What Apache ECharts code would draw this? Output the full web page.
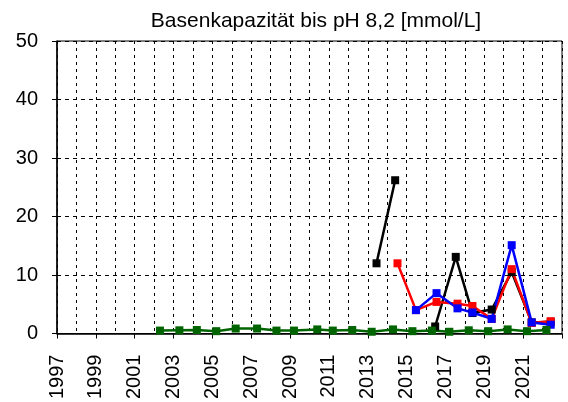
<!DOCTYPE html>
<html><head><meta charset="utf-8">
<script src="https://cdn.jsdelivr.net/npm/echarts@6/dist/echarts.min.js"></script>
<style>html,body{margin:0;padding:0;background:#fff}#c{width:568px;height:402px}</style>
</head><body><div id="c"></div>
<script>
var title = 'Basenkapazität bis pH 8,2 [mmol/L]';
var yTicks = [0, 10, 20, 30, 40, 50];
var greenYears = [2002.3, 2003.3, 2004.2, 2005.2, 2006.2, 2007.3, 2008.3, 2009.2, 2010.4, 2011.2, 2012.2, 2013.2, 2014.3, 2015.3, 2016.3, 2017.2, 2018.2, 2019.2, 2020.2, 2021.2, 2022.2];
var greenVals  = [0.5, 0.55, 0.6, 0.4, 0.85, 0.85, 0.5, 0.5, 0.7, 0.5, 0.6, 0.3, 0.7, 0.4, 0.5, 0.3, 0.55, 0.4, 0.7, 0.4, 0.6];
var blackAYears = [2013.45, 2014.41];
var blackAVals  = [12.0, 26.2];
var blackBYears = [2016.47, 2017.53, 2018.39, 2019.38, 2020.41, 2021.44, 2022.42];
var blackBVals  = [1.2, 13.1, 3.5, 4.1, 10.5, 1.9, 2.0];
var redYears = [2014.53, 2015.48, 2016.54, 2017.62, 2018.39, 2019.38, 2020.41, 2021.44, 2022.42];
var redVals  = [12.0, 4.0, 5.4, 5.1, 4.7, 2.5, 11.0, 1.8, 2.1];
var blueYears = [2015.48, 2016.54, 2017.62, 2018.39, 2019.38, 2020.41, 2021.44, 2022.42];
var blueVals  = [4.0, 6.9, 4.3, 3.6, 2.5, 15.1, 1.9, 1.5];

function pairs(xs, ys){ return xs.map(function(x,i){ return [x, ys[i]]; }); }
function ser(name, xs, ys, color){
  return {name:name, type:'line', data:pairs(xs,ys), symbol:'rect', symbolSize:8,
    lineStyle:{color:color,width:2.5}, itemStyle:{color:color}, animation:false};
}
var chart = echarts.init(document.getElementById('c'));
chart.setOption({
  animation:false,
  title:{text:title, left:311, textAlign:'center', top:6,
    textStyle:{fontFamily:'Liberation Sans, Arial', fontSize:21, fontWeight:'normal', color:'#000'}},
  grid:{left:57, right:6, top:41, bottom:68, show:true, borderColor:'#000', borderWidth:1},
  xAxis:{type:'value', min:1997, max:2023, interval:2,
    axisLine:{show:true, onZero:false, lineStyle:{color:'#000', width:1.5}},
    axisTick:{show:true, length:5, lineStyle:{color:'#000'}},
    axisLabel:{rotate:90, fontFamily:'Liberation Sans, Arial', fontSize:20, color:'#000', margin:21,
      formatter:function(v){ return v===2023 ? '' : String(v); }},
    splitLine:{show:true, lineStyle:{color:'#000', type:[3,4], width:1}},
    minorTick:{show:false, splitNumber:2},
    minorSplitLine:{show:true, lineStyle:{color:'#000', type:[3,4], width:1}}
  },
  yAxis:{type:'value', min:0, max:50, interval:10,
    axisLine:{show:true, lineStyle:{color:'#000', width:1.5}},
    axisTick:{show:true, length:5, lineStyle:{color:'#000'}},
    axisLabel:{fontFamily:'Liberation Sans, Arial', fontSize:20, color:'#000', margin:19,
      formatter:function(v){ return yTicks.indexOf(v)>=0 ? String(v) : ''; }},
    splitLine:{show:true, lineStyle:{color:'#000', type:[4,4], width:1}}
  },
  series:[
    ser('black1', blackAYears, blackAVals, '#000000'),
    ser('black2', blackBYears, blackBVals, '#000000'),
    ser('red', redYears, redVals, '#ff0000'),
    ser('blue', blueYears, blueVals, '#0000ff'),
    ser('green', greenYears, greenVals, '#006400')
  ]
});
</script></body></html>
